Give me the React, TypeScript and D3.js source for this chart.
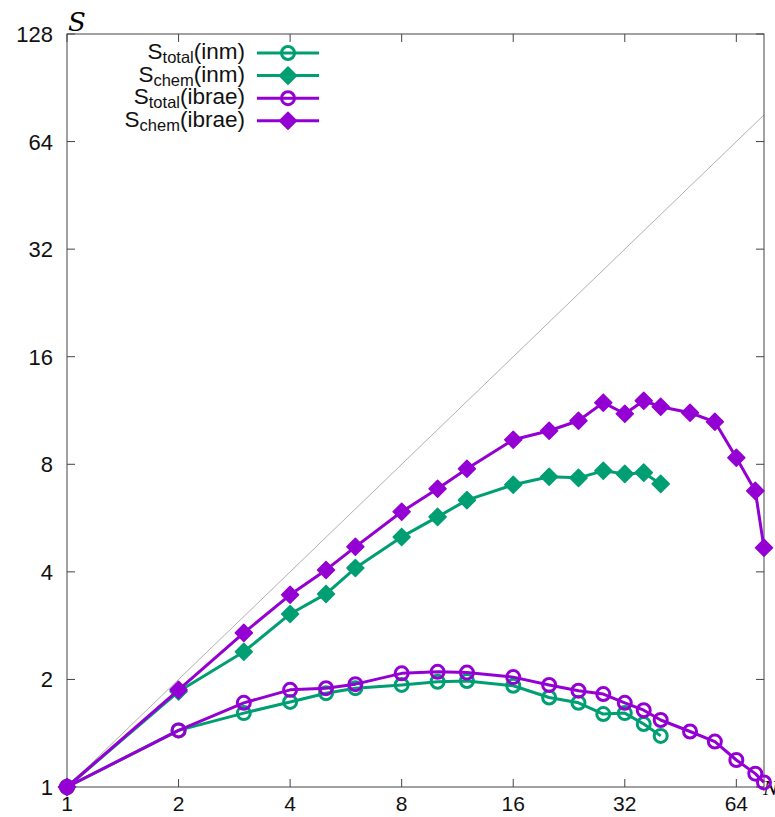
import React from 'react';
import * as d3 from 'd3';

// cluster sizes
const nIbrae = [1, 2, 3, 4, 5, 6, 8, 10, 12, 16, 20, 24, 28, 32, 36, 40, 48, 56, 64, 72, 76];
const nInm = [1, 2, 3, 4, 5, 6, 8, 10, 12, 16, 20, 24, 28, 32, 36, 40];

const totalInm = [1, 1.44, 1.61, 1.73, 1.83, 1.89, 1.93, 1.97, 1.98, 1.92, 1.78, 1.72, 1.60, 1.61, 1.50, 1.39];
const chemInm = [1, 1.85, 2.39, 3.05, 3.47, 4.10, 5.01, 5.70, 6.35, 7.01, 7.38, 7.33, 7.67, 7.52, 7.58, 7.05];
const totalIbrae = [1, 1.44, 1.72, 1.87, 1.89, 1.94, 2.08, 2.10, 2.09, 2.03, 1.93, 1.86, 1.82, 1.72, 1.64, 1.54, 1.43, 1.34, 1.19, 1.09, 1.03];
const chemIbrae = [1, 1.87, 2.70, 3.45, 4.05, 4.70, 5.89, 6.83, 7.77, 9.37, 9.93, 10.59, 11.9, 11.08, 12.05, 11.59, 11.15, 10.52, 8.34, 6.74, 4.67];

const xTicks = [1, 2, 4, 8, 16, 32, 64];
const yTicks = [1, 2, 4, 8, 16, 32, 64, 128];

const GREEN = '#009e73';
const PURPLE = '#9400d3';

const series = [
  { sub: 'total', tag: '(inm)', xs: nInm, ys: totalInm, color: GREEN, marker: 'circle' },
  { sub: 'chem', tag: '(inm)', xs: nInm, ys: chemInm, color: GREEN, marker: 'diamond' },
  { sub: 'total', tag: '(ibrae)', xs: nIbrae, ys: totalIbrae, color: PURPLE, marker: 'circle' },
  { sub: 'chem', tag: '(ibrae)', xs: nIbrae, ys: chemIbrae, color: PURPLE, marker: 'diamond' },
];

const W = 775;
const H = 817;
const m = { left: 67, right: 764, top: 34, bottom: 787 };

const x = d3.scaleLog().base(2).domain([1, 76]).range([m.left, m.right]);
const y = d3.scaleLog().base(2).domain([1, 128]).range([m.bottom, m.top]);

const Marker = ({ kind, cx, cy, color }: { kind: string; cx: number; cy: number; color: string }) =>
  kind === 'circle' ? (
    <circle cx={cx} cy={cy} r={6.5} fill="none" stroke={color} strokeWidth={3} />
  ) : (
    <path d={`M${cx},${cy - 8.5}L${cx + 8.5},${cy}L${cx},${cy + 8.5}L${cx - 8.5},${cy}Z`} fill={color} stroke={color} strokeWidth={1.5} strokeLinejoin="round" />
  );

export default function App() {
  const line = d3.line<[number, number]>().x(d => x(d[0])).y(d => y(d[1]));
  const font = '"Liberation Sans", Arial, sans-serif';
  return (
    <svg width={W} height={H} style={{ position: 'absolute', left: 0, top: 0, background: 'white' }} fontFamily={font}>
      {/* reference line S = N */}
      <line x1={x(1)} y1={y(1)} x2={x(76)} y2={y(76)} stroke="#b0b0b0" strokeWidth={1} />

      {/* frame & ticks */}
      <rect x={m.left} y={m.top} width={m.right - m.left} height={m.bottom - m.top} fill="none" stroke="#444" strokeWidth={1} />
      {xTicks.map(t => (
        <g key={'x' + t}>
          <line x1={x(t)} x2={x(t)} y1={m.bottom} y2={m.bottom - 8} stroke="#444" />
          <line x1={x(t)} x2={x(t)} y1={m.top} y2={m.top + 8} stroke="#444" />
          <text x={x(t)} y={m.bottom + 24} textAnchor="middle" fontSize={21} fill="#111">{t}</text>
        </g>
      ))}
      {yTicks.map(t => (
        <g key={'y' + t}>
          <line x1={m.left} x2={m.left + 8} y1={y(t)} y2={y(t)} stroke="#444" />
          <line x1={m.right} x2={m.right - 8} y1={y(t)} y2={y(t)} stroke="#444" />
          <text x={m.left - 14} y={y(t) + 8} textAnchor="end" fontSize={22} fill="#111">{t}</text>
        </g>
      ))}
      <text x={68} y={31} fontSize={26} fontStyle="italic" fontFamily='"DejaVu Serif", "Liberation Serif", serif'>S</text>
      <text x={763} y={795} fontSize={22} fontStyle="italic" fontFamily='"Liberation Serif", serif'>N</text>

      {/* data */}
      {series.map((s, i) => {
        const pts = s.xs.map((n, j) => [n, s.ys[j]] as [number, number]);
        return (
          <g key={i}>
            <path d={line(pts) ?? ''} fill="none" stroke={s.color} strokeWidth={3} strokeLinejoin="round" />
            {pts.map((p, j) => (
              <Marker key={j} kind={s.marker} cx={x(p[0])} cy={y(p[1])} color={s.color} />
            ))}
          </g>
        );
      })}

      {/* legend */}
      {series.map((s, i) => {
        const ly = 53 + i * 22.6;
        return (
          <g key={'l' + i}>
            <text x={245} y={ly + 6} textAnchor="end" fontSize={22.5} fill="#111">
              S<tspan fontSize={16.5} dy={4}>{s.sub}</tspan>
              <tspan dy={-4} fontSize={22.5}>{s.tag}</tspan>
            </text>
            <line x1={257} x2={319} y1={ly} y2={ly} stroke={s.color} strokeWidth={3} />
            <Marker kind={s.marker} cx={288} cy={ly} color={s.color} />
          </g>
        );
      })}
    </svg>
  );
}
